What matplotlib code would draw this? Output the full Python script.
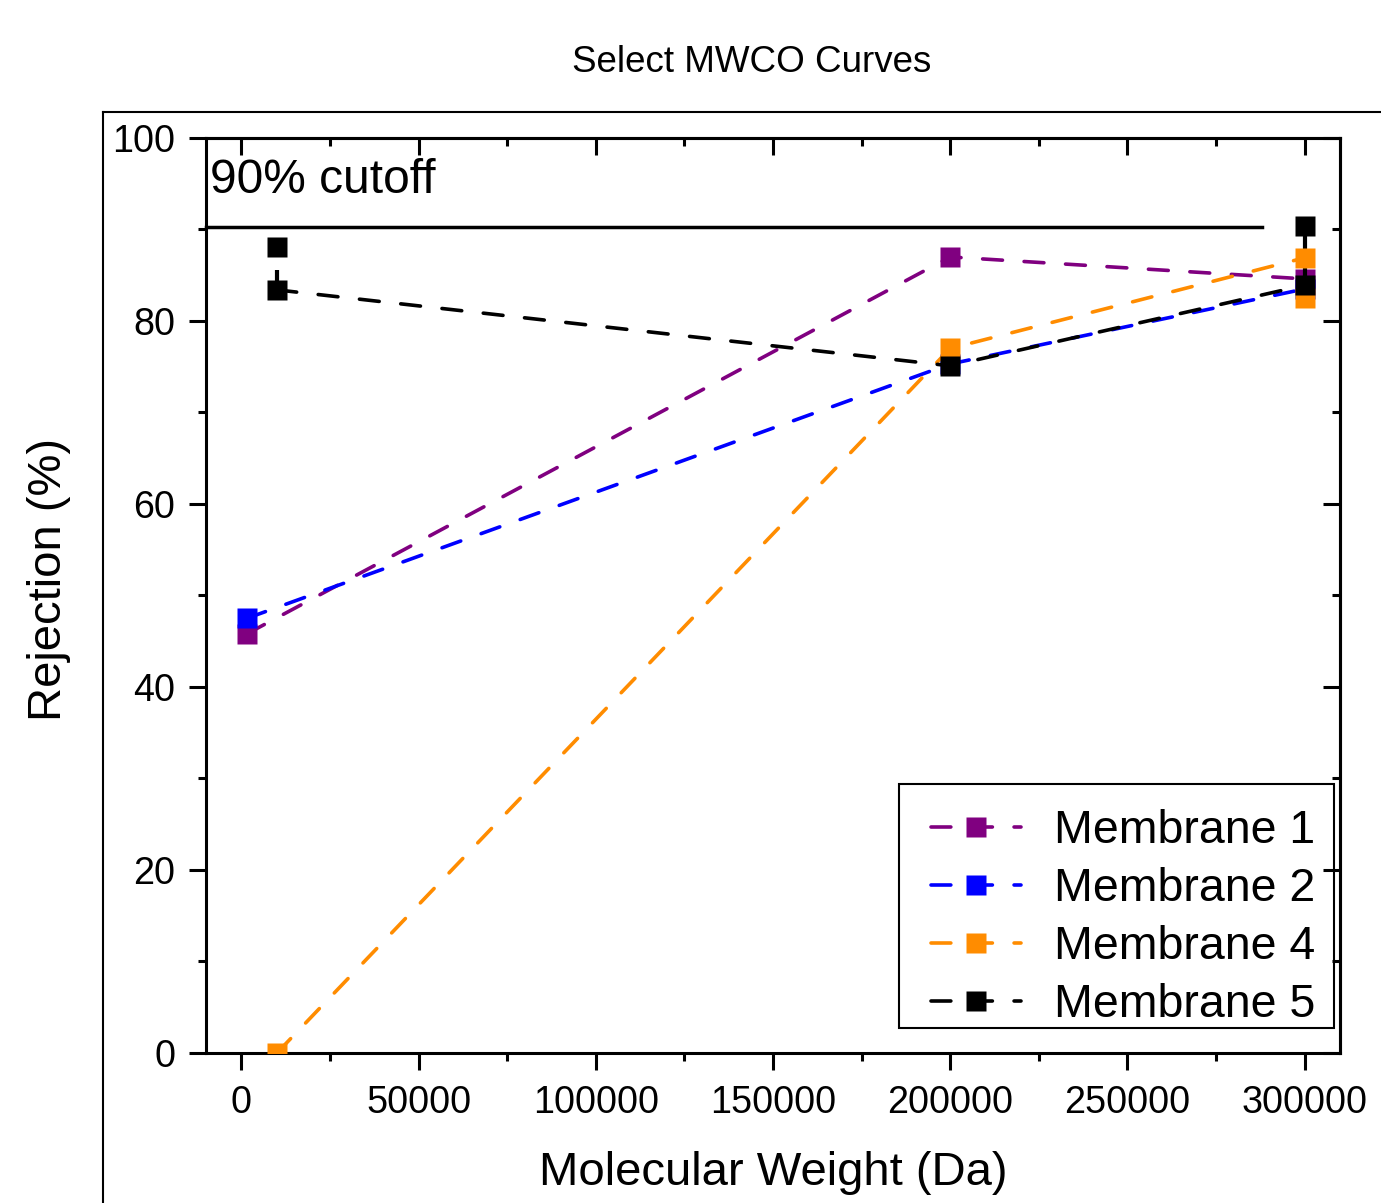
import numpy as np
import matplotlib.pyplot as plt
from matplotlib.lines import Line2D
from matplotlib.patches import Rectangle
plt.rcParams.update({'font.family': ['Liberation Sans', 'DejaVu Sans'], 'font.size': 26})

# molecular weight (Da) and rejection (%)
mw_m1 = [1500, 200000, 300000]
rej_m1 = [45.8, 87.0, 84.6]
mw_m2 = [1500, 200000, 300000]
rej_m2 = [47.5, 75.3, 83.5]
mw_m4 = [10000, 200000, 300000]
rej_m4 = [0.0, 77.0, 86.9]
mw_m5 = [10000, 200000, 300000]
rej_m5 = [83.4, 75.1, 83.9]
err_m5 = [2.2, 0.0, 5.5]

# stray extra points
mw_m4_extra = [300000]
rej_m4_extra = [82.5]
mw_m5_extra = [10000, 300000]
rej_m5_extra = [88.1, 90.4]

cutoff_x = [-10000, 288000]
cutoff_y = [90.3, 90.3]

fig = plt.figure(figsize=(13.81, 12.03), dpi=100)
ax = fig.add_axes([0.1492, 0.1247, 0.8211, 0.7606])

lw = 2.6
ms = 14
dash = (5.5, 6)

ax.plot(mw_m1, rej_m1, color='purple', lw=lw, dashes=dash, dash_capstyle='round',
        marker='s', ms=ms, mec='none', label='Membrane 1', zorder=3)
ax.plot(mw_m2, rej_m2, color='blue', lw=lw, dashes=dash, dash_capstyle='round',
        marker='s', ms=ms, mec='none', label='Membrane 2', zorder=4)
ax.errorbar(mw_m5, rej_m5, yerr=[np.zeros(3), err_m5], fmt='none', ecolor='black',
            elinewidth=3, capsize=0, zorder=4.5)
ax.plot(mw_m4, rej_m4, color='darkorange', lw=lw, dashes=dash, dash_capstyle='round',
        marker='s', ms=ms, mec='none', label='Membrane 4', zorder=5)
ax.plot(mw_m4_extra, rej_m4_extra, ls='none', marker='s', ms=ms, mec='none',
        color='darkorange', zorder=5)
ax.plot(mw_m5, rej_m5, color='black', lw=lw, dashes=dash, dash_capstyle='round',
        marker='s', ms=ms, mec='none', label='Membrane 5', zorder=6)
ax.plot(mw_m5_extra, rej_m5_extra, ls='none', marker='s', ms=ms, mec='none',
        color='black', zorder=6)

ax.plot(cutoff_x, cutoff_y, color='black', lw=2.5, zorder=2, clip_on=False)
ax.text(-9000, 95.3, '90% cutoff', fontsize=34.5, va='center', ha='left')

ax.set_xlim(-10000, 310000)
ax.set_ylim(0, 100)
ax.set_xticks(np.arange(0, 300001, 50000))
ax.set_xticks(np.arange(0, 300001, 25000), minor=True)
ax.set_yticks(np.arange(0, 101, 20))
ax.set_yticks(np.arange(0, 101, 10), minor=True)

for s in ax.spines.values():
    s.set_linewidth(2.2)
ax.tick_params(which='major', direction='out', length=12, width=2.2, labelsize=27.2, pad=11)
ax.tick_params(which='minor', direction='out', length=6, width=2.2)
ax.tick_params(axis='y', which='major', pad=10)

top = ax.secondary_xaxis('top')
top.set_xticks(np.arange(0, 300001, 50000))
top.set_xticks(np.arange(0, 300001, 25000), minor=True)
top.tick_params(which='major', direction='in', length=12, width=2.2, labeltop=False)
top.tick_params(which='minor', direction='in', length=6, width=2.2)
top.spines['top'].set_linewidth(2.2)
right = ax.secondary_yaxis('right')
right.set_yticks(np.arange(0, 101, 20))
right.set_yticks(np.arange(0, 101, 10), minor=True)
right.tick_params(which='major', direction='in', length=12, width=2.2, labelright=False)
right.tick_params(which='minor', direction='in', length=6, width=2.2)
right.spines['right'].set_linewidth(2.2)

ax.set_xlabel('Molecular Weight (Da)', fontsize=34)
ax.xaxis.set_label_coords(0.5, -0.107)
ax.set_ylabel('Rejection (%)', fontsize=34)
ax.yaxis.set_label_coords(-0.119, 0.517)

fig.text(0.544, 0.948, 'Select MWCO Curves', fontsize=26.5, ha='center', va='center')

leg = ax.legend(loc='lower right', bbox_to_anchor=(0.9906, 0.013), fontsize=33.5,
                frameon=False, borderaxespad=0,
                handlelength=1.95, handletextpad=0.7, labelspacing=0.3, borderpad=0.3)
leg.set_zorder(10)
# legend frame, drawn on its own so the text can sit lower inside it
ax.add_patch(Rectangle((0.611, 0.0273), 0.3837, 0.2667, transform=ax.transAxes,
                       fill=False, edgecolor='black', lw=1.5, zorder=10))

# outer frame
fig.add_artist(Line2D([0.0746, 0.0746], [0.0, 0.9069], color='black', lw=1.5))
fig.add_artist(Line2D([0.0746, 1.0], [0.9069, 0.9069], color='black', lw=1.5))

plt.savefig('out.png', dpi=100)
